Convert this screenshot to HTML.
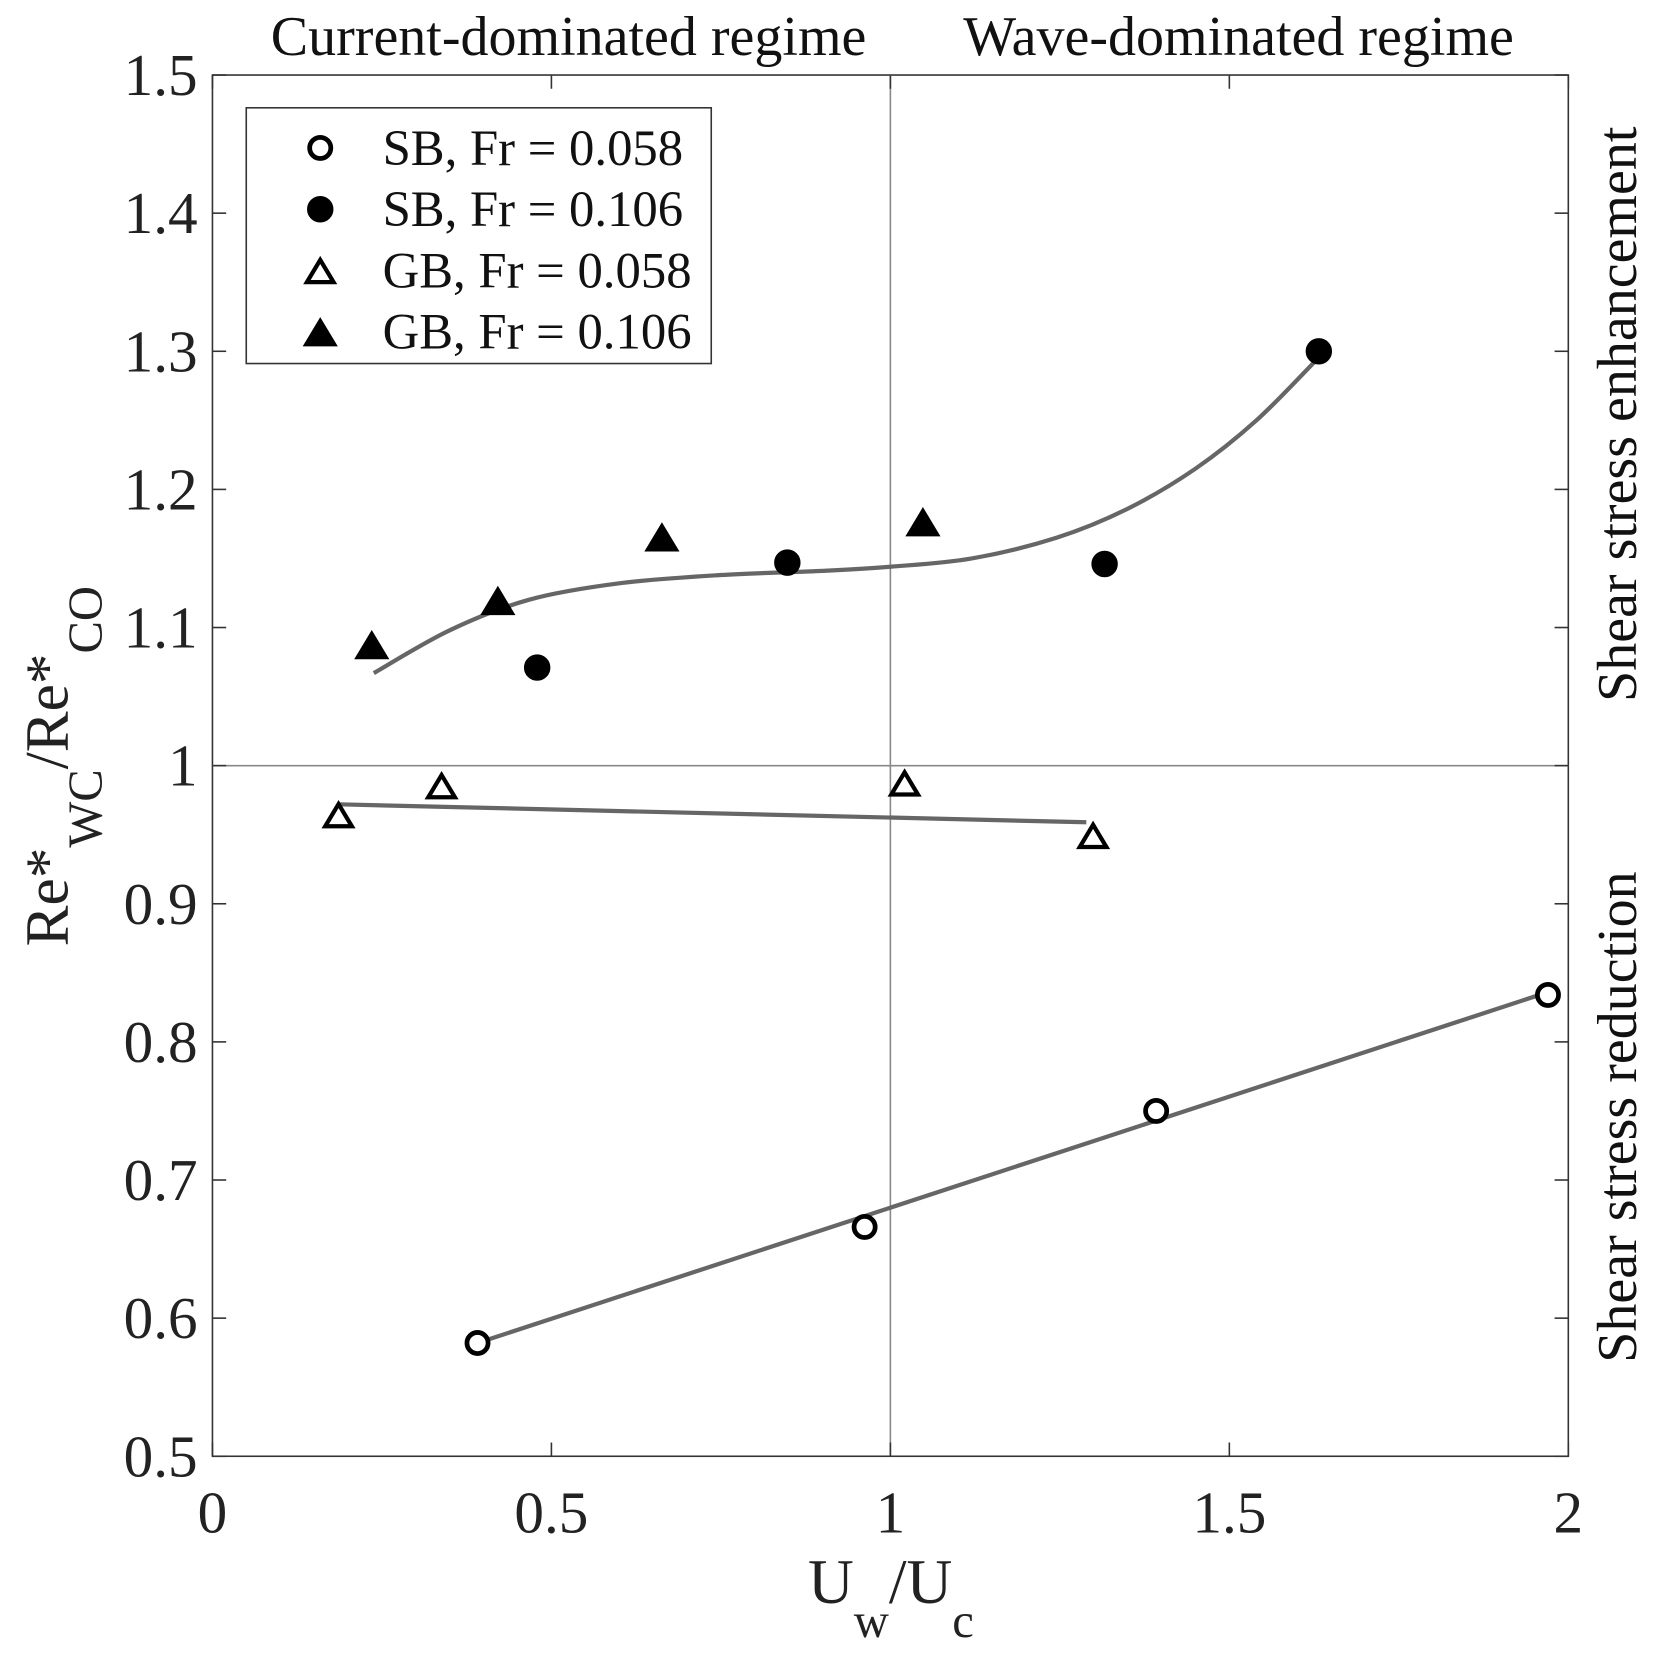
<!DOCTYPE html>
<html><head><meta charset="utf-8"><style>
html,body{margin:0;padding:0;background:#fff;}
svg{display:block;font-family:"Liberation Serif",serif;}
</style></head><body>
<svg id="chart" width="1655" height="1656" viewBox="0 0 1566 1567" xmlns="http://www.w3.org/2000/svg"></svg>
<script>
const xTicks=[0,0.5,1,1.5,2];
const xTickLabels=["0","0.5","1","1.5","2"];
const yTicks=[0.5,0.6,0.7,0.8,0.9,1,1.1,1.2,1.3,1.4,1.5];
const yTickLabels=["0.5","0.6","0.7","0.8","0.9","1","1.1","1.2","1.3","1.4","1.5"];
const sb058X=[0.391,0.962,1.392,1.970];
const sb058Y=[0.582,0.666,0.750,0.834];
const sb106X=[0.479,0.848,1.316,1.632];
const sb106Y=[1.071,1.147,1.146,1.300];
const gb058X=[0.186,0.338,1.021,1.299];
const gb058Y=[0.963,0.984,0.986,0.948];
const gb106X=[0.235,0.421,0.663,1.048];
const gb106Y=[1.086,1.118,1.164,1.175];
const fitSb058X=[0.391,1.970];
const fitSb058Y=[0.582,0.836];
const fitGb058X=[0.186,1.289];
const fitGb058Y=[0.972,0.959];
const fitUpperX=[0.238,0.35,0.466,0.60,0.75,0.90,1.0,1.12,1.245,1.35,1.45,1.54,1.625];
const fitUpperY=[1.067,1.098,1.120,1.132,1.138,1.141,1.144,1.150,1.165,1.186,1.215,1.250,1.292];

const L=201,R=1484,T=71,B=1378;
const sx=v=>L+(v-0)/2*(R-L);
const sy=v=>B-(v-0.5)/1*(B-T);
const svg=document.getElementById('chart');
const NS="http://www.w3.org/2000/svg";
function el(tag,attrs,parent){const e=document.createElementNS(NS,tag);for(const k in attrs)e.setAttribute(k,attrs[k]);(parent||svg).appendChild(e);return e;}
function txt(s,attrs){const e=el('text',attrs);e.textContent=s;return e;}

let box=el('rect',{x:L,y:T,width:R-L,height:B-T,fill:'none',stroke:'#333','stroke-width':1.5});


let vl=el('line',{x1:sx(1),x2:sx(1),y1:T,y2:B,stroke:'#888','stroke-width':1.5});


let hl=el('line',{x1:L,x2:R,y1:sy(1),y2:sy(1),stroke:'#888','stroke-width':1.5});



xTicks.forEach((v,i)=>{
  const x=sx(v);
  el('line',{x1:x,x2:x,y1:B,y2:B-13,stroke:'#333','stroke-width':1.5});
  el('line',{x1:x,x2:x,y1:T,y2:T+13,stroke:'#333','stroke-width':1.5});
  const t=txt(xTickLabels[i],{x:x,y:B+72,'font-size':56,'text-anchor':'middle',fill:'#222'});
  
  
});
yTicks.forEach((v,i)=>{
  const y=sy(v);
  el('line',{x1:L,x2:L+13,y1:y,y2:y,stroke:'#333','stroke-width':1.5});
  el('line',{x1:R,x2:R-13,y1:y,y2:y,stroke:'#333','stroke-width':1.5});
  const t=txt(yTickLabels[i],{x:L-14,y:y+19,'font-size':56,'text-anchor':'end',fill:'#222'});
  
  
});

function polyline(xs,ys,name){
  const p=el('polyline',{points:xs.map((x,i)=>sx(x)+','+sy(ys[i])).join(' '),fill:'none',stroke:'#666','stroke-width':4,'stroke-linejoin':'round'});
  
  
}
function smooth(xs,ys,name){
  const P=xs.map((x,i)=>[sx(x),sy(ys[i])]);
  let d=`M${P[0][0]},${P[0][1]}`;
  for(let i=0;i<P.length-1;i++){
    const p0=P[i-1]||P[i],p1=P[i],p2=P[i+1],p3=P[i+2]||P[i+1];
    const c1=[p1[0]+(p2[0]-p0[0])/6,p1[1]+(p2[1]-p0[1])/6];
    const c2=[p2[0]-(p3[0]-p1[0])/6,p2[1]-(p3[1]-p1[1])/6];
    d+=` C${c1[0]},${c1[1]} ${c2[0]},${c2[1]} ${p2[0]},${p2[1]}`;
  }
  const p=el('path',{d:d,fill:'none',stroke:'#666','stroke-width':4});
  
  
}
polyline(fitSb058X,fitSb058Y,'fit-line-sb-058');
polyline(fitGb058X,fitGb058Y,'fit-line-gb-058');
smooth(fitUpperX,fitUpperY,'fit-curve-fr-106');

function circle(x,y,filled,name){
  const c=el('circle',{cx:x,cy:y,r:filled?12:10,fill:filled?'#000':'#fff',stroke:'#000','stroke-width':filled?1:4.5});
  
  
}
function tri(x,y,filled,name){
  const s=filled?15:12;
  const p=el('polygon',{points:`${x},${y-s} ${x-s*1.05},${y+s*0.75} ${x+s*1.05},${y+s*0.75}`,fill:filled?'#000':'#fff',stroke:'#000','stroke-width':filled?1:4,'stroke-linejoin':'miter'});
  
  
}
sb058X.forEach((v,i)=>circle(sx(v),sy(sb058Y[i]),false,'point-sb-058'));
sb106X.forEach((v,i)=>circle(sx(v),sy(sb106Y[i]),true,'point-sb-106'));
gb058X.forEach((v,i)=>tri(sx(v),sy(gb058Y[i]),false,'point-gb-058'));
gb106X.forEach((v,i)=>tri(sx(v),sy(gb106Y[i]),true,'point-gb-106'));

let lg=el('rect',{x:233,y:102,width:440,height:242,fill:'#fff',stroke:'#333','stroke-width':1.5});


const legendLabels=["SB, Fr = 0.058","SB, Fr = 0.106","GB, Fr = 0.058","GB, Fr = 0.106"];
legendLabels.forEach((s,i)=>{
  const y=140+i*58;
  if(i===0)circle(303,y,false,'legend-marker');
  if(i===1)circle(303,y,true,'legend-marker');
  if(i===2)tri(303,y+2,false,'legend-marker');
  if(i===3)tri(303,y+2,true,'legend-marker');
  const t=txt(s,{x:362,y:y+16,'font-size':48,fill:'#111'});
  
  
});

let t1=txt('Current-dominated regime',{x:538,y:52,'font-size':53,'text-anchor':'middle',fill:'#111'});

let t2=txt('Wave-dominated regime',{x:1172,y:52,'font-size':53,'text-anchor':'middle',fill:'#111'});

let t3=txt('Shear stress enhancement',{x:0,y:0,'font-size':53,'text-anchor':'middle',fill:'#111',transform:'translate(1548,392) rotate(-90)'});

let t4=txt('Shear stress reduction',{x:0,y:0,'font-size':53,'text-anchor':'middle',fill:'#111',transform:'translate(1548,1057) rotate(-90)'});


const xt=el('text',{x:843,y:1517,'font-size':60,'text-anchor':'middle',fill:'#222'});

xt.innerHTML='U<tspan dy="32" font-size="46">w</tspan><tspan dy="-32">/U</tspan><tspan dy="32" font-size="46">c</tspan>';
const yt=el('text',{x:0,y:0,'font-size':58,'text-anchor':'middle',fill:'#222',transform:'translate(64,725) rotate(-90)'});

yt.innerHTML='Re*<tspan dy="32" font-size="46">WC</tspan><tspan dy="-32">/Re*</tspan><tspan dy="32" font-size="46">CO</tspan>';
</script>
</body></html>
